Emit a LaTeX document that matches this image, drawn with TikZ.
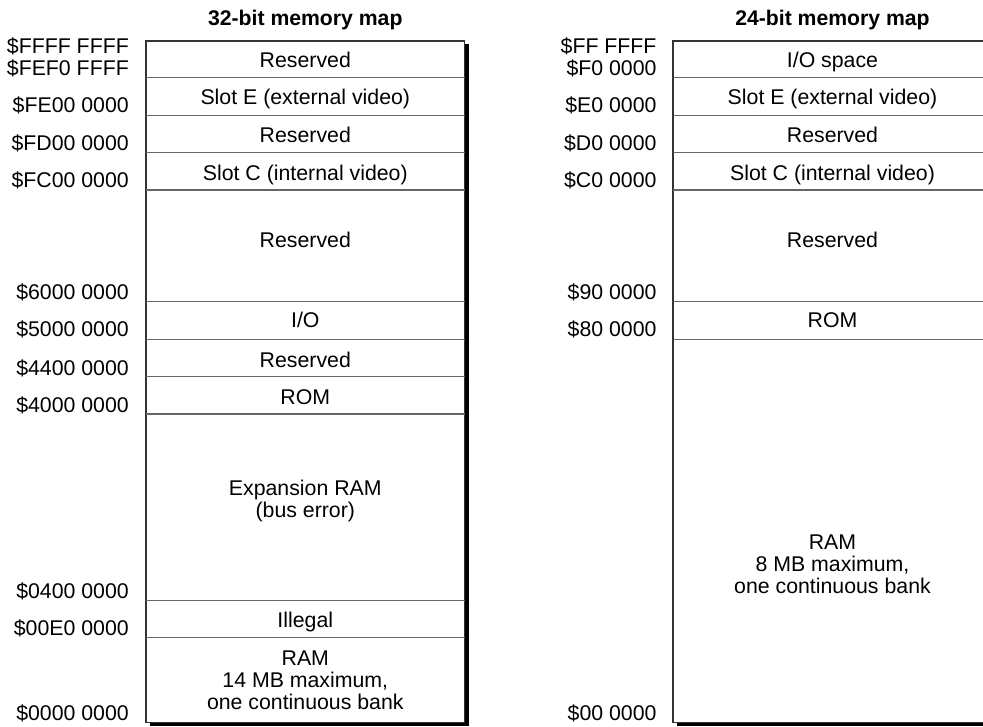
\documentclass[tikz,border=0pt]{standalone}
\usepackage{fontspec}
\setmainfont{Liberation Sans}
\begin{document}
\begin{tikzpicture}[x=1pt,y=-1pt,
  addr/.style={anchor=base east, inner sep=0pt, font=\fontsize{21.3}{22}\selectfont},
  lbl/.style={anchor=base, inner sep=0pt, font=\fontsize{21.3}{22}\selectfont},
  ttl/.style={anchor=base, inner sep=0pt, font=\fontsize{21.2}{22}\bfseries\selectfont},
  sep/.style={draw=black!60, line width=1.1pt},
  border/.style={draw=black!80, fill=white, line width=1.3pt},
  shadowbox/.style={fill=black}]
\useasboundingbox (0,0) rectangle (983,727);
\clip (0,0) rectangle (983,727);
\fill[white] (0,0) rectangle (983,727);

% ---------- 32-bit map ----------
\node[ttl] (t32) at (305.3,26) {32-bit memory map};
\fill[shadowbox] (149.5,44.5) rectangle (468.5,726);
\draw[border] (146,41) rectangle (464.7,722.7);
\foreach \y in {77.7,115.3,152.7,190,301.7,339.3,376.7,414,600.7,637.3}
  \draw[sep] (146,\y) -- (464.7,\y);

\node[addr] (a1) at (129,54) {\$FFFF FFFF};
\node[addr] (a2) at (129,76) {\$FEF0 FFFF};
\node[addr] (a3) at (129,113) {\$FE00 0000};
\node[addr] (a4) at (129,151) {\$FD00 0000};
\node[addr] (a5) at (129,188) {\$FC00 0000};
\node[addr] (a6) at (129,300) {\$6000 0000};
\node[addr] (a7) at (129,337) {\$5000 0000};
\node[addr] (a8) at (129,375) {\$4400 0000};
\node[addr] (a9) at (129,412) {\$4000 0000};
\node[addr] (a10) at (129,598) {\$0400 0000};
\node[addr] (a11) at (129,635) {\$00E0 0000};
\node[addr] (a12) at (129,720) {\$0000 0000};

\node[lbl] (l1) at (305.3,68) {Reserved};
\node[lbl] (l2) at (305.3,105) {Slot E (external video)};
\node[lbl] (l3) at (305.3,143) {Reserved};
\node[lbl] (l4) at (305.3,180.5) {Slot C (internal video)};
\node[lbl] (l5) at (305.3,248) {Reserved};
\node[lbl] (l6) at (305.3,328) {I/O};
\node[lbl] (l7) at (305.3,367) {Reserved};
\node[lbl] (l8) at (305.3,404) {ROM};
\node[lbl] (l9a) at (305.3,495) {Expansion RAM};
\node[lbl] (l9b) at (305.3,517) {(bus error)};
\node[lbl] (l10) at (305.3,627) {Illegal};
\node[lbl] (l11a) at (305.3,665) {RAM};
\node[lbl] (l11b) at (305.3,687) {14 MB maximum,};
\node[lbl] (l11c) at (305.3,709) {one continuous bank};

% ---------- 24-bit map ----------
\node[ttl] (t24) at (832.5,26) {24-bit memory map};
\fill[shadowbox] (676.5,44.5) rectangle (995.5,726);
\draw[border] (673,41) rectangle (991.7,722.7);
\foreach \y in {77.7,115.3,152.7,190,301.7,339.3}
  \draw[sep] (673,\y) -- (991.7,\y);

\node[addr] (b1) at (656.7,54) {\$FF FFFF};
\node[addr] (b2) at (656.7,76) {\$F0 0000};
\node[addr] (b3) at (656.7,113) {\$E0 0000};
\node[addr] (b4) at (656.7,151) {\$D0 0000};
\node[addr] (b5) at (656.7,188) {\$C0 0000};
\node[addr] (b6) at (656.7,300) {\$90 0000};
\node[addr] (b7) at (656.7,337) {\$80 0000};
\node[addr] (b8) at (656.7,720) {\$00 0000};

\node[lbl] (r1) at (832.5,68) {I/O space};
\node[lbl] (r2) at (832.5,105) {Slot E (external video)};
\node[lbl] (r3) at (832.5,143) {Reserved};
\node[lbl] (r4) at (832.5,180.5) {Slot C (internal video)};
\node[lbl] (r5) at (832.5,248) {Reserved};
\node[lbl] (r6) at (832.5,328) {ROM};
\node[lbl] (r7a) at (832.5,549) {RAM};
\node[lbl] (r7b) at (832.5,571) {8 MB maximum,};
\node[lbl] (r7c) at (832.5,593) {one continuous bank};
\end{tikzpicture}
\end{document}
